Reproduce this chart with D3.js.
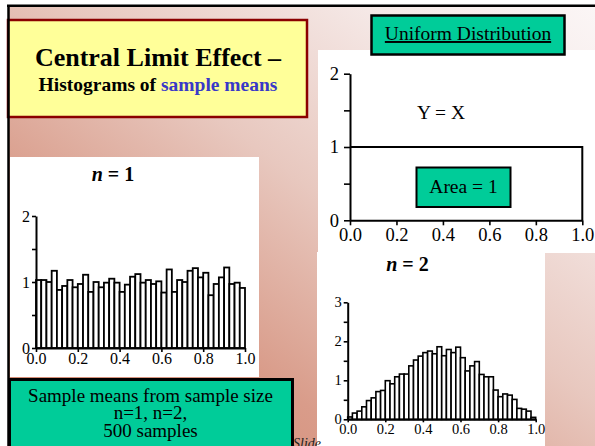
<!DOCTYPE html>
<html>
<head>
<meta charset="utf-8">
<script src="https://cdn.jsdelivr.net/npm/d3@7"></script>
<style>
  html, body { margin: 0; padding: 0; background: #ffffff; }
  svg { display: block; }
  text { font-family: "Liberation Serif", "Times New Roman", serif; }
</style>
</head>
<body>
<svg id="chart" width="595" height="446"></svg>
<script>
// ---------------- DATA ----------------
const titleLine1 = "Central Limit Effect \u2013";
const titleLine2a = "Histograms of ";
const titleLine2b = "sample means";

// Histogram of sample means, n = 1 (density per bin of width 1/40)
const n1Values = [1.03, 1.03, 1.00, 1.17, 0.88, 0.94, 1.03, 0.92, 0.97, 1.11,
                  0.85, 1.00, 0.92, 0.99, 1.05, 0.99, 0.85, 0.96, 1.08, 1.12,
                  0.99, 1.03, 0.97, 1.01, 0.84, 1.19, 0.85, 1.03, 1.00, 1.17,
                  1.21, 1.07, 1.14, 0.80, 0.97, 1.07, 1.22, 0.97, 0.99, 0.91];
// Histogram of sample means, n = 2
const n2Values = [0.06, 0.16, 0.21, 0.32, 0.48, 0.55, 0.71, 0.74, 0.99, 0.91,
                  1.09, 1.16, 1.16, 1.37, 1.52, 1.62, 1.71, 1.75, 1.68, 1.86,
                  1.63, 1.79, 1.71, 1.85, 1.58, 1.24, 1.37, 1.48, 1.15, 1.09,
                  1.09, 0.75, 0.58, 0.65, 0.62, 0.51, 0.28, 0.26, 0.21, 0.05];

// Uniform density outline
const uniformX = [0, 1, 1];
const uniformY = [1, 1, 0];

const xTicks = [0, 0.2, 0.4, 0.6, 0.8, 1.0];
const yTicks2 = [0, 0.5, 1, 1.5, 2];
const yTicks3 = [0, 0.5, 1, 1.5, 2, 2.5, 3];

const boxTexts = ["Sample means from sample size", "n=1, n=2,", "500 samples"];

// ---------------- DRAW ----------------
const svg = d3.select("#chart");
const W = 595, H = 446;
const GREEN = "#00CC99";

const defs = svg.append("defs");
const grad = defs.append("linearGradient").attr("id", "bg")
  .attr("x1", 0).attr("y1", 1).attr("x2", 1).attr("y2", 0);
[[0, "#D2836A"], [0.3, "#D99C8A"], [0.55, "#E8C8BF"], [0.8, "#F5E8E6"], [1, "#FBF6F6"]]
  .forEach(([o, c]) => grad.append("stop").attr("offset", o).attr("stop-color", c));

svg.append("rect").attr("x", 0).attr("y", 0).attr("width", W).attr("height", H).attr("fill", "#ffffff");
svg.append("rect").attr("x", 8).attr("y", 5).attr("width", W - 8).attr("height", H - 5).attr("fill", "url(#bg)");

// Title box
svg.append("rect").attr("x", 8).attr("y", 20).attr("width", 299).attr("height", 97)
  .attr("fill", "#FFFF99").attr("stroke", "#8B0000").attr("stroke-width", 2.5);

// black slide border
svg.append("line").attr("x1", 7).attr("x2", W).attr("y1", 5.8).attr("y2", 5.8)
  .attr("stroke", "#000").attr("stroke-width", 2.5);
svg.append("line").attr("x1", 8.5).attr("x2", 8.5).attr("y1", 5).attr("y2", H)
  .attr("stroke", "#000").attr("stroke-width", 2.5);

svg.append("text").attr("x", 158).attr("y", 66).attr("text-anchor", "middle")
  .attr("font-size", 26).attr("font-weight", "bold").attr("fill", "#000").text(titleLine1);
const t2 = svg.append("text").attr("x", 158).attr("y", 91).attr("text-anchor", "middle")
  .attr("font-size", 19.5).attr("font-weight", "bold").attr("fill", "#000");
t2.append("tspan").text(titleLine2a);
t2.append("tspan").attr("fill", "#3838C8").text(titleLine2b);

// White panels
svg.append("rect").attr("x", 10).attr("y", 157).attr("width", 249).attr("height", 220).attr("fill", "#fff");
svg.append("rect").attr("x", 318).attr("y", 50).attr("width", 277).attr("height", 203).attr("fill", "#fff");
svg.append("rect").attr("x", 317).attr("y", 252).attr("width", 228).attr("height", 194).attr("fill", "#fff");

// helper to draw axes
function drawAxes(g, x, y, yTickVals, opts) {
  const ax = g.append("g").attr("transform", `translate(0,${y.range()[0]})`)
    .call(d3.axisBottom(x).tickValues(xTicks).tickFormat(d3.format(".1f"))
      .tickSize(opts.xTick).tickSizeOuter(0).tickPadding(opts.xPad));
  const ay = g.append("g").attr("transform", `translate(${x.range()[0]},0)`)
    .call(d3.axisLeft(y).tickValues(yTickVals).tickFormat(d => Number.isInteger(d) ? d : "")
      .tickSize(opts.yTick).tickSizeOuter(0).tickPadding(opts.yPad));
  [ax, ay].forEach(a => {
    a.select(".domain").attr("stroke", "#000").attr("stroke-width", 2);
    a.selectAll(".tick line").attr("stroke", "#000").attr("stroke-width", 1.6);
    a.selectAll(".tick text").attr("fill", "#000")
      .style("font-family", '"Liberation Serif", "Times New Roman", serif')
      .attr("font-size", opts.fs);
  });
  return {ax, ay};
}

function drawHist(values, x, y, sw) {
  const g = svg.append("g");
  g.selectAll("rect").data(values).enter().append("rect")
    .attr("x", (d, i) => x(i / values.length))
    .attr("y", d => y(d))
    .attr("width", (d, i) => x((i + 1) / values.length) - x(i / values.length))
    .attr("height", d => y(0) - y(d))
    .attr("fill", "#fff").attr("stroke", "#000").attr("stroke-width", sw);
  return g;
}

// ---- n = 1 histogram ----
const x1 = d3.scaleLinear().domain([0, 1]).range([36, 245]);
const y1 = d3.scaleLinear().domain([0, 2]).range([348, 216]);
drawHist(n1Values, x1, y1, 1.8);
drawAxes(svg.append("g"), x1, y1, yTicks2, {xTick: 4, xPad: 1, yTick: 4, yPad: 2, fs: 16});
const n1t = svg.append("text").attr("x", 113).attr("y", 181).attr("text-anchor", "middle")
  .attr("font-size", 20).attr("font-weight", "bold");
n1t.append("tspan").attr("font-style", "italic").text("n");
n1t.append("tspan").text(" = 1");

// ---- n = 2 histogram ----
const x2 = d3.scaleLinear().domain([0, 1]).range([347.7, 535.7]);
const y2 = d3.scaleLinear().domain([0, 3]).range([419.3, 302.3]);
drawHist(n2Values, x2, y2, 1.6);
drawAxes(svg.append("g"), x2, y2, yTicks3, {xTick: 3, xPad: 1, yTick: 4, yPad: 2, fs: 14.5});
const n2t = svg.append("text").attr("x", 407.5).attr("y", 271).attr("text-anchor", "middle")
  .attr("font-size", 20).attr("font-weight", "bold");
n2t.append("tspan").attr("font-style", "italic").text("n");
n2t.append("tspan").text(" = 2");

// ---- Uniform distribution ----
const xu = d3.scaleLinear().domain([0, 1]).range([350, 582.3]);
const yu = d3.scaleLinear().domain([0, 2]).range([220.3, 73.7]);
drawAxes(svg.append("g"), xu, yu, yTicks2, {xTick: 5, xPad: 2.5, yTick: 6, yPad: 5, fs: 18.5});
const pts = uniformX.map((v, i) => [v, uniformY[i]]);
svg.append("path").datum(pts)
  .attr("d", d3.line().x(d => xu(d[0])).y(d => yu(d[1])))
  .attr("fill", "none").attr("stroke", "#000").attr("stroke-width", 2);
svg.append("text").attr("x", 441).attr("y", 119).attr("text-anchor", "middle")
  .attr("font-size", 19.5).text("Y = X");

// Area box
svg.append("rect").attr("x", 416.5).attr("y", 167.5).attr("width", 94).attr("height", 39.5)
  .attr("fill", GREEN).attr("stroke", "#000").attr("stroke-width", 2);
svg.append("text").attr("x", 463.5).attr("y", 193).attr("text-anchor", "middle")
  .attr("font-size", 19.5).text("Area = 1");

// Uniform Distribution box
svg.append("rect").attr("x", 371.5).attr("y", 15.5).attr("width", 193).attr("height", 39)
  .attr("fill", GREEN).attr("stroke", "#000").attr("stroke-width", 2.5);
svg.append("text").attr("x", 468).attr("y", 40).attr("text-anchor", "middle")
  .attr("font-size", 19.5).attr("text-decoration", "underline").text("Uniform Distribution");

// Bottom green box
svg.append("rect").attr("x", 9.5).attr("y", 379.5).attr("width", 283).attr("height", 80)
  .attr("fill", GREEN).attr("stroke", "#000").attr("stroke-width", 3);
const bt = svg.append("text").attr("text-anchor", "middle").attr("font-size", 19);
boxTexts.forEach((s, i) => {
  bt.append("tspan").attr("x", 150.5).attr("y", 401.5 + i * 17.5).text(s);
});

// Slide footer fragment
svg.append("text").attr("x", 293).attr("y", 448).attr("font-size", 14)
  .attr("font-style", "italic").attr("fill", "#222").text("Slide");
</script>
</body>
</html>
